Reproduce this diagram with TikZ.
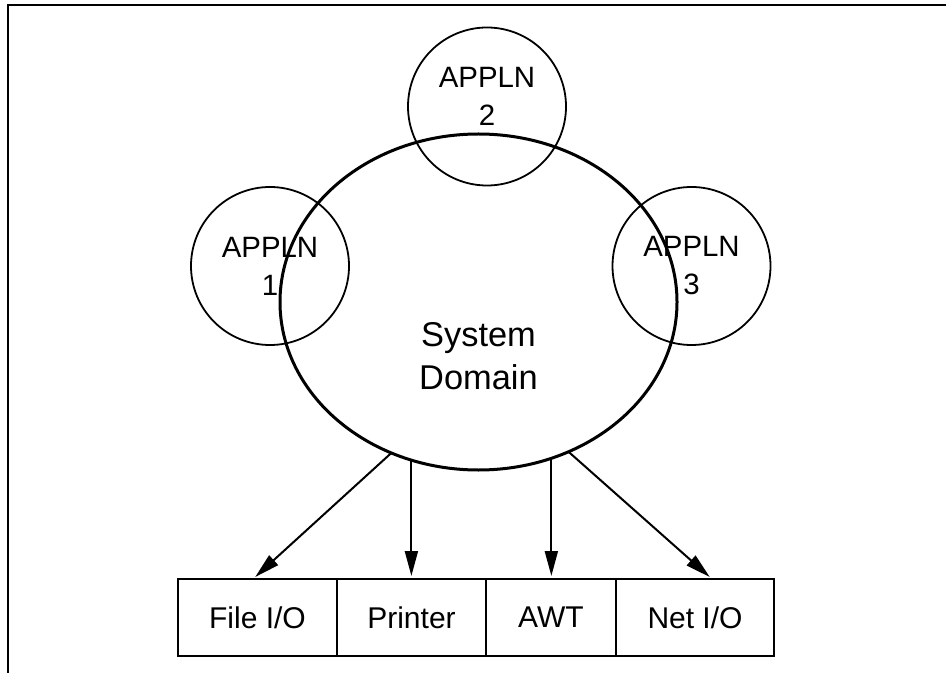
\documentclass[tikz,border=0pt]{standalone}
\usepackage{fontspec}
\setmainfont{Liberation Sans}
\usetikzlibrary{arrows.meta,positioning,shapes.geometric}

\tikzset{
	appln/.style={draw, circle, line width=0.9pt, minimum size=79pt, inner sep=0pt, outer sep=0pt},
	appln text/.style={align=center, font=\fontsize{14.7}{19}\selectfont},
	service/.style={draw, rectangle, line width=1pt, minimum height=38.5pt, inner sep=0pt, outer sep=0pt, font=\fontsize{15}{17}\selectfont},
	call/.style={-{Triangle[length=12.5pt,width=6.5pt]}, line width=1pt, shorten >=1.5pt}
}

\begin{document}
\begin{tikzpicture}[x=0.5pt, y=-0.5pt]

				\useasboundingbox (0,0) rectangle (946,673);

				% Draw the frame.
				\draw[line width=1pt] (8,673) -- (8,5) -- (946,5);

				% Draw the system domain.
				\node[draw, ellipse, line width=1.5pt, minimum width=198.5pt, minimum height=168pt, inner sep=0pt, outer sep=0pt] (sysdom) at (478.5,302) {};
				\node[align=center, font=\fontsize{17.2}{21.5}\selectfont] (sysdomtxt) at (478.5,356) {System\\Domain};

				% Draw the applications.
				\foreach \n/\x/\y/\dy in {1/270/266/0, 2/487/106.5/5pt, 3/691.5/266/0}{
					\node[appln] (app\n) at (\x,\y) {};
					\node[appln text] (app\n txt) at ([yshift=\dy]app\n.center) {APPLN\\\n};
				}

				% Draw the services.
				\node[service, minimum width=79.5pt] (fileio) at (257.5,617.5) {File I/O};
				\node[service, minimum width=74.5pt, right=0pt of fileio] (printer) {Printer};
				\node[service, minimum width=65pt, right=0pt of printer] (awt) {AWT};
				\node[service, minimum width=79pt, right=0pt of awt] (netio) {Net I/O};

				% Draw the calls.
				\draw[call] (sysdom.240.2) -- ([xshift=-2.25pt]fileio.north);
				\draw[call] (sysdom.247.2) -- (sysdom.247.2 |- printer.north);
				\draw[call] (sysdom.295.5) -- (sysdom.295.5 |- awt.north);
				\draw[call] (sysdom.301.4) -- ([xshift=8.5pt]netio.north);

\end{tikzpicture}
\end{document}
